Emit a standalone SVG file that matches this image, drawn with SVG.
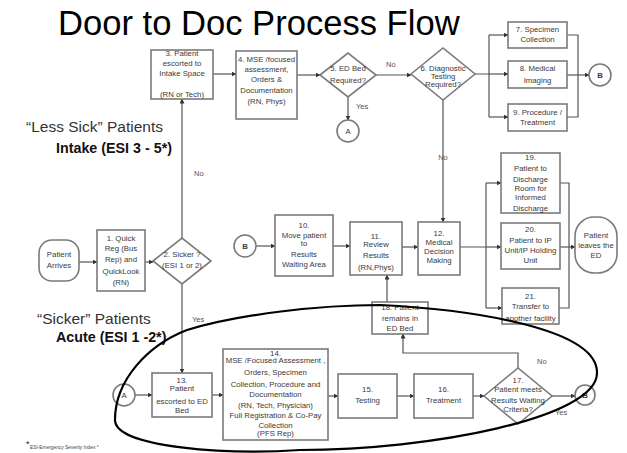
<svg xmlns="http://www.w3.org/2000/svg" width="627" height="453" viewBox="0 0 627 453">
<defs>
<marker id="ah" viewBox="0 0 10 10" refX="9" refY="5" markerWidth="5" markerHeight="5" orient="auto" markerUnits="userSpaceOnUse">
<path d="M0,0 L10,5 L0,10 Z" fill="#333"/>
</marker>
<style>
.bx{fill:#fff;stroke:#7a7a7a;stroke-width:1.6}
.t{font-family:"Liberation Sans",Arial,sans-serif;font-size:7.8px;fill:#3a3a3a;text-anchor:middle}
.lb{font-family:"Liberation Sans",Arial,sans-serif;font-size:7.5px;fill:#555}
.c{fill:none;stroke:#555;stroke-width:1.2}
.a{marker-end:url(#ah)}
.big{font-family:"Liberation Sans",Arial,sans-serif;font-size:15.5px;fill:#333}
.bold{font-family:"Liberation Sans",Arial,sans-serif;font-size:14.3px;font-weight:bold;fill:#111}
</style>
</defs>
<rect width="627" height="453" fill="#fff"/>
<text x="58" y="35" font-family="Liberation Sans,Arial,sans-serif" font-size="34.6" fill="#000">Door to Doc Process Flow</text>
<text class="big" x="26" y="132">“Less Sick” Patients</text>
<text class="bold" x="56" y="153">Intake (ESI 3 - 5*)</text>
<text class="big" x="37" y="324">“Sicker” Patients</text>
<text class="bold" x="56" y="342">Acute (ESI 1 -2*)</text>
<text x="26" y="447" font-family="Liberation Sans,Arial,sans-serif" font-size="9" fill="#222">*</text>
<text x="30" y="449" font-family="Liberation Sans,Arial,sans-serif" font-size="4.8" fill="#444">ESI-Emergency Severity Index *</text>

<g id="connectors">
<path class="c a" d="M79,262 H97"/>
<path class="c a" d="M145,262 H153"/>
<path class="c a" d="M182,238 V99"/>
<path class="c a" d="M182,284 V373"/>
<path class="c a" d="M213,74 H236"/>
<path class="c a" d="M297,75 H320"/>
<path class="c a" d="M376,75 H411"/>
<path class="c a" d="M348,97 V120"/>
<path class="c" d="M475,74 H489 M489,35 V117"/>
<path class="c a" d="M489,35 H508"/>
<path class="c a" d="M489,74 H508"/>
<path class="c a" d="M489,117 H508"/>
<path class="c" d="M567,35 H578 V117 H567"/>
<path class="c a" d="M567,75 H589"/>
<path class="c a" d="M443,100 V222"/>
<path class="c a" d="M256,246 H275"/>
<path class="c a" d="M333,246 H350"/>
<path class="c a" d="M402,247 H418"/>
<path class="c" d="M460,247 H486 M486,183 V308"/>
<path class="c a" d="M486,183 H501"/>
<path class="c a" d="M486,247 H501"/>
<path class="c a" d="M486,308 H502"/>
<path class="c" d="M560,183 H569 V308 H559"/>
<path class="c a" d="M560,247 H575"/>
<path class="c a" d="M387,302 V275"/>
<path class="c a" d="M518,368 V353 H403 V334"/>
<path class="c a" d="M135,395 H152"/>
<path class="c a" d="M212,395 H223"/>
<path class="c a" d="M328,396 H338"/>
<path class="c a" d="M397,396 H414"/>
<path class="c a" d="M473,396 H484"/>
<path class="c a" d="M552,396 H575"/>
<text class="lb" x="194" y="176">No</text>
<text class="lb" x="192" y="322">Yes</text>
<text class="lb" x="386" y="67">No</text>
<text class="lb" x="356" y="109">Yes</text>
<text class="lb" x="443" y="160" text-anchor="middle">No</text>
<text class="lb" x="537" y="364">No</text>
<text class="lb" x="555" y="415">Yes</text>
</g>

<g id="n-arrives"><rect class="bx" x="39" y="240" width="40" height="41" rx="13"/><text class="t" x="59" y="256.5">Patient</text><text class="t" x="59" y="268">Arrives</text></g>
<g id="n1"><rect class="bx" x="97" y="230" width="48" height="61"/><text class="t" x="121" y="240.5">1.  Quick</text><text class="t" x="121" y="250.5">Reg (Bus</text><text class="t" x="121" y="261.5">Rep) and</text><text class="t" x="121" y="273.5">QuickLook</text><text class="t" x="121" y="284.5">(RN)</text></g>
<g id="n2"><polygon class="bx" points="153,261 182,238 211,261 182,284"/><text class="t" x="182" y="256.5">2. Sicker ?</text><text class="t" x="182" y="267.5">(ESI 1 or 2)</text></g>
<g id="n3"><rect class="bx" x="151" y="50" width="62" height="49"/><text class="t" x="182" y="56">3. Patient</text><text class="t" x="182" y="65.5">escorted to</text><text class="t" x="182" y="75.5">Intake Space</text><text class="t" x="182" y="97">(RN or Tech)</text></g>
<g id="n4"><rect class="bx" x="236" y="51" width="61" height="68"/><text class="t" x="266.5" y="61.5">4. MSE /focused</text><text class="t" x="266.5" y="71.5">assessment,</text><text class="t" x="266.5" y="81.5">Orders &amp;</text><text class="t" x="266.5" y="92.5">Documentation</text><text class="t" x="266.5" y="103.5">(RN, Phys)</text></g>
<g id="n5"><polygon class="bx" points="320,75 348,53 376,75 348,97"/><text class="t" x="348" y="71">5. ED Bed</text><text class="t" x="348" y="82.5">Required?</text></g>
<g id="nA1"><circle class="bx" cx="348" cy="131" r="11"/><text class="t" x="348" y="134">A</text></g>
<g id="n6"><polygon class="bx" points="411,74 443,48 475,74 443,100"/><text class="t" x="443" y="70.5">6. Diagnostic</text><text class="t" x="443" y="78.5">Testing</text><text class="t" x="443" y="86.5">Required?</text></g>
<g id="n7"><rect class="bx" x="508" y="22" width="59" height="26"/><text class="t" x="537.5" y="31.5">7. Specimen</text><text class="t" x="537.5" y="41.5">Collection</text></g>
<g id="n8"><rect class="bx" x="508" y="61" width="59" height="27"/><text class="t" x="537.5" y="70.5">8. Medical</text><text class="t" x="537.5" y="82.5">Imaging</text></g>
<g id="n9"><rect class="bx" x="508" y="104" width="59" height="27"/><text class="t" x="537.5" y="114.5">9. Procedure /</text><text class="t" x="537.5" y="124.5">Treatment</text></g>
<g id="nB1"><circle class="bx" cx="600" cy="75" r="11"/><text class="t" x="600" y="78" font-weight="bold">B</text></g>
<g id="nB2"><circle class="bx" cx="245" cy="246" r="11"/><text class="t" x="245" y="249" font-weight="bold">B</text></g>
<g id="n10"><rect class="bx" x="275" y="215" width="58" height="61"/><text class="t" x="304" y="227.5">10.</text><text class="t" x="304" y="237.5">Move patient</text><text class="t" x="304" y="245.5">to</text><text class="t" x="304" y="256.5">Results</text><text class="t" x="304" y="266.5">Waiting Area</text></g>
<g id="n11"><rect class="bx" x="350" y="222" width="52" height="53"/><text class="t" x="376" y="238.5">11.</text><text class="t" x="376" y="246.5">Review</text><text class="t" x="376" y="258">Results</text><text class="t" x="376" y="269.5">(RN,Phys)</text></g>
<g id="n12"><rect class="bx" x="418" y="222" width="42" height="53"/><text class="t" x="439" y="235.5">12.</text><text class="t" x="439" y="245">Medical</text><text class="t" x="439" y="254">Decision</text><text class="t" x="439" y="262.5">Making</text></g>
<g id="n19"><rect class="bx" x="501" y="153" width="59" height="60"/><text class="t" x="530.5" y="159.5">19.</text><text class="t" x="530.5" y="171">Patient to</text><text class="t" x="530.5" y="181.5">Discharge</text><text class="t" x="530.5" y="190.5">Room for</text><text class="t" x="530.5" y="200">Informed</text><text class="t" x="530.5" y="210.5">Discharge</text></g>
<g id="n20"><rect class="bx" x="501" y="223" width="59" height="46"/><text class="t" x="530.5" y="232">20.</text><text class="t" x="530.5" y="242.5">Patient to IP</text><text class="t" x="530.5" y="253">Unit/IP Holding</text><text class="t" x="530.5" y="263">Unit</text></g>
<g id="n21"><rect class="bx" x="502" y="288" width="57" height="36"/><text class="t" x="530.5" y="299">21.</text><text class="t" x="530.5" y="309">Transfer to</text><text class="t" x="530.5" y="321">another facility</text></g>
<g id="n-leaves"><rect class="bx" x="575" y="217" width="42" height="56" rx="19"/><text class="t" x="596" y="238">Patient</text><text class="t" x="596" y="248">leaves the</text><text class="t" x="596" y="258">ED</text></g>
<g id="n18"><rect class="bx" x="372" y="302" width="56" height="32"/><text class="t" x="400" y="309.5">18. Patient</text><text class="t" x="400" y="321">remains in</text><text class="t" x="400" y="330.5">ED Bed</text></g>
<g id="nA2"><circle class="bx" cx="124" cy="395" r="11"/><text class="t" x="124" y="398">A</text></g>
<g id="n13"><rect class="bx" x="152" y="373" width="60" height="44"/><text class="t" x="182" y="382.5">13.</text><text class="t" x="182" y="391">Patient</text><text class="t" x="182" y="403.5">escorted to ED</text><text class="t" x="182" y="412.5">Bed</text></g>
<g id="n14"><rect class="bx" x="223" y="349" width="105" height="91"/><text class="t" x="275.5" y="355.5">14.</text><text class="t" x="275.5" y="363">MSE /Focused Assessment ,</text><text class="t" x="275.5" y="375">Orders, Specimen</text><text class="t" x="275.5" y="387">Collection, Procedure and</text><text class="t" x="275.5" y="397">Documentation</text><text class="t" x="275.5" y="407.5">(RN, Tech, Physician)</text><text class="t" x="275.5" y="417.5">Full Registration &amp; Co-Pay</text><text class="t" x="275.5" y="427.5">Collection</text><text class="t" x="275.5" y="436">(PFS Rep)</text></g>
<g id="n15"><rect class="bx" x="338" y="374" width="59" height="44"/><text class="t" x="367.5" y="392">15.</text><text class="t" x="367.5" y="403">Testing</text></g>
<g id="n16"><rect class="bx" x="414" y="374" width="59" height="44"/><text class="t" x="443.5" y="392">16.</text><text class="t" x="443.5" y="403">Treatment</text></g>
<g id="n17"><polygon class="bx" points="484,396 518,368 552,396 518,424"/><text class="t" x="518" y="382.5">17.</text><text class="t" x="518" y="391.5">Patient meets</text><text class="t" x="518" y="403">Results Waiting</text><text class="t" x="518" y="412">Criteria?</text></g>
<g id="nB3"><circle class="bx" cx="585" cy="395" r="10"/><text class="t" x="585" y="398" font-weight="bold">B</text></g>

<path id="highlight" d="M115,420 C115,380 148,345 187,330 C240,314 320,305 380,305 C480,310 598,330 597,373 C597,418 430,450 300,450 C230,455 115,448 115,420 Z" fill="none" stroke="#000" stroke-width="2.2"/>
</svg>
